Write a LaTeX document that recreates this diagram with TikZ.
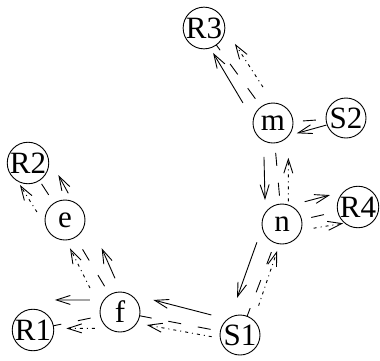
\documentclass[tikz,border=0pt]{standalone}
\usepackage{fontspec}
\setmainfont{Liberation Serif}
\usetikzlibrary{calc,arrows.meta,backgrounds}
\tikzset{
 nd/.style={circle,draw,line width=0.9pt,fill=white,minimum size=40pt,inner sep=0pt,font=\fontsize{31}{31}\selectfont},
 lk/.style={line width=0.9pt,dash pattern=on 13pt off 17pt},
 sol/.style={line width=0.9pt,-{Straight Barb[length=14pt,width=9pt]}},
 dd/.style={line width=0.9pt,dash pattern=on 3pt off 4pt on 1pt off 4pt,-{Straight Barb[length=14pt,width=9pt]}},
}
\newcommand\flow[7]{\draw[#1] ($(#2)!#4pt!(#3)!#5pt!90:(#3)$) -- ($(#3)!#6pt!(#2)!#7pt!-90:(#2)$);}
\begin{document}
\begin{tikzpicture}[x=1pt,y=-1pt]
\useasboundingbox (0,0) rectangle (380,360);
\node[nd] (R3) at (204,28) {R3};
\node[nd] (m) at (273,123) {m};
\node[nd] (S2) at (346,118) {S2};
\node[nd] (n) at (282,224) {n};
\node[nd] (R4) at (358,207) {R4};
\node[nd] (S1) at (240,335) {S1};
\node[nd] (f) at (120,312) {f};
\node[nd] (e) at (65,220) {e};
\node[nd] (R2) at (28,163) {R2};
\node[nd] (R1) at (33,330) {R1};
\begin{scope}[on background layer]
\draw[lk] (m.center) -- (R3.center);
\draw[lk] (m.center) -- (S2.center);
\draw[lk] (m.center) -- (n.center);
\draw[lk] (n.center) -- (R4.center);
\draw[lk] (n.center) -- (S1.center);
\draw[lk] (S1.center) -- (f.center);
\draw[lk] (f.center) -- (R1.center);
\draw[lk] (f.center) -- (e.center);
\draw[lk] (e.center) -- (R2.center);
\end{scope}
\flow{sol}{m}{R3}{34}{12.5}{25.5}{7.3}
\flow{dd}{m}{R3}{35}{-13}{31}{-15.7}
\flow{sol}{S2}{m}{20}{5.7}{23}{11.9}
\flow{sol}{m}{n}{33}{-12}{25.4}{-14.8}
\flow{dd}{n}{m}{22}{-8.3}{36}{-12.2}
\flow{sol}{n}{R4}{27}{16.8}{24.7}{17.8}
\flow{dd}{n}{R4}{30}{-11}{18}{-12.7}
\flow{sol}{n}{S1}{26}{-17}{33.6}{-15.9}
\flow{dd}{S1}{n}{34}{-7}{26.8}{-5}
\flow{sol}{S1}{f}{32}{-14.3}{30.5}{-18.1}
\flow{dd}{S1}{f}{27.5}{7}{28.7}{7.7}
\flow{sol}{f}{R1}{27}{-17.9}{27.5}{-25}
\flow{dd}{f}{R1}{28}{10.9}{33}{5.2}
\flow{sol}{f}{e}{31.5}{-13}{43}{-17}
\flow{dd}{f}{e}{36}{13.5}{26.8}{10.2}
\flow{sol}{e}{R2}{20.6}{-17.3}{26.7}{-18.9}
\flow{dd}{e}{R2}{22}{19.2}{14}{18.7}
\end{tikzpicture}
\end{document}
